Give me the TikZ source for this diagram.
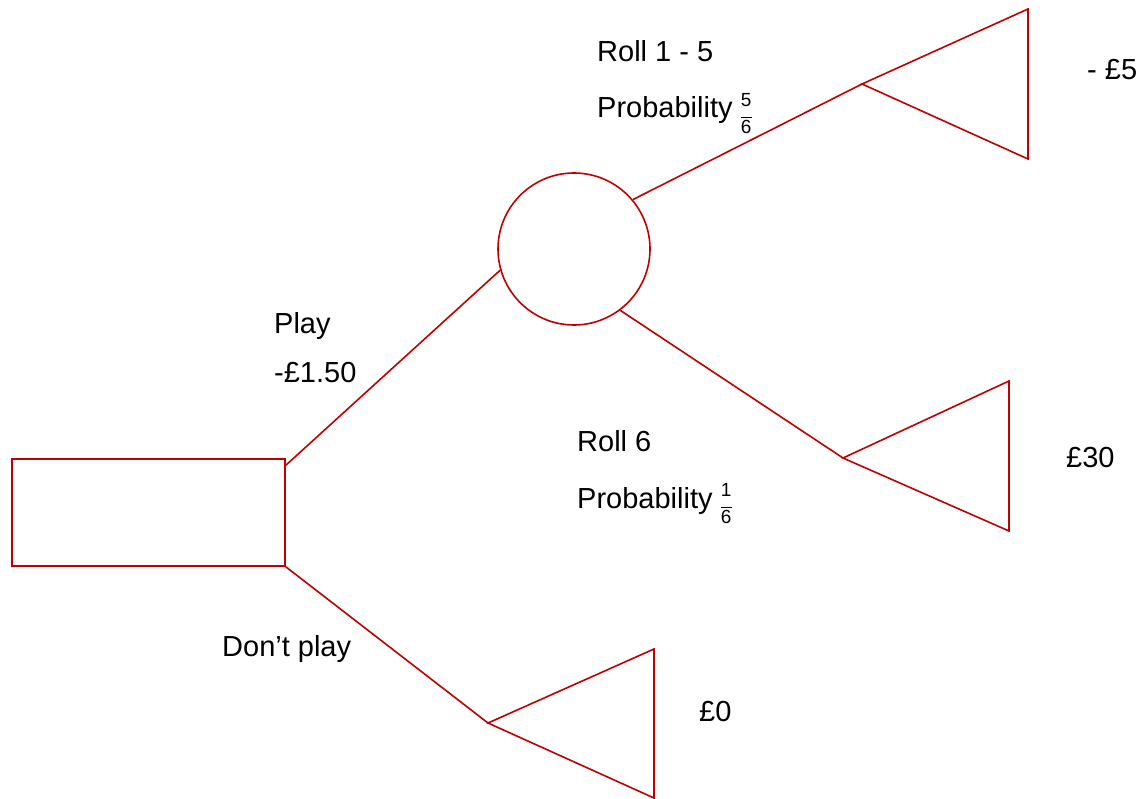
\documentclass[tikz,border=0pt]{standalone}
\usepackage{fontspec}
\setmainfont{Liberation Sans}
\newcommand{\myfrac}[2]{\raisebox{-4.5pt}{$\vcenter{\hbox{\fontsize{19}{19}\selectfont\begin{tabular}{@{}c@{}}\rule{0pt}{13pt}#1\\[-8pt]\rule{11pt}{1pt}\\[-3pt]\rule{0pt}{13pt}#2\end{tabular}}}$}}
\begin{document}
\begin{tikzpicture}[x=1pt,y=-1pt,
  branch/.style={draw={rgb,255:red,192;green,0;blue,0},line width=1.6pt},
  lbl/.style={anchor=base west,inner sep=0pt,font=\fontsize{29}{34}\selectfont}]
\useasboundingbox (0,0) rectangle (1142,799);
% decision box
\node[branch,rectangle,minimum width=273pt,minimum height=107pt,inner sep=0pt] (box) at (148.5,512.5) {};
% chance circle
\node[branch,circle,minimum size=152pt,inner sep=0pt] (chance) at (574,249) {};
% end triangles
\coordinate (t1) at (862,84);
\coordinate (t2) at (843,458);
\coordinate (t3) at (488,723);
\draw[branch,line join=miter] (t1) -- (1028,9) -- (1028,159) -- cycle;
\draw[branch,line join=miter] (t2) -- (1009,381) -- (1009,531) -- cycle;
\draw[branch,line join=miter] (t3) -- (654,649) -- (654,798) -- cycle;
% connectors
\coordinate (playstart) at (285,466);
\draw[branch] (playstart) -- (chance.196);
\draw[branch] (box.south east) -- (t3);
\draw[branch] (chance.40) -- (t1);
\draw[branch] (chance.-53) -- (t2);
% labels
\node[lbl] (l1) at (597,61.5) {Roll 1 - 5};
\node[lbl] (l2) at (597,118) {Probability \myfrac{5}{6}};
\node[lbl] (l3) at (1087,80) {- £5};
\node[lbl] (l4) at (274,333) {Play};
\node[lbl] (l5) at (274,382) {-£1.50};
\node[lbl] (l6) at (577,451.5) {Roll 6};
\node[lbl] (l7) at (577,508) {Probability \myfrac{1}{6}};
\node[lbl] (l8) at (1066,467) {£30};
\node[lbl] (l9) at (222,656) {Don’t play};
\node[lbl] (l10) at (699,721) {£0};
\end{tikzpicture}
\end{document}
